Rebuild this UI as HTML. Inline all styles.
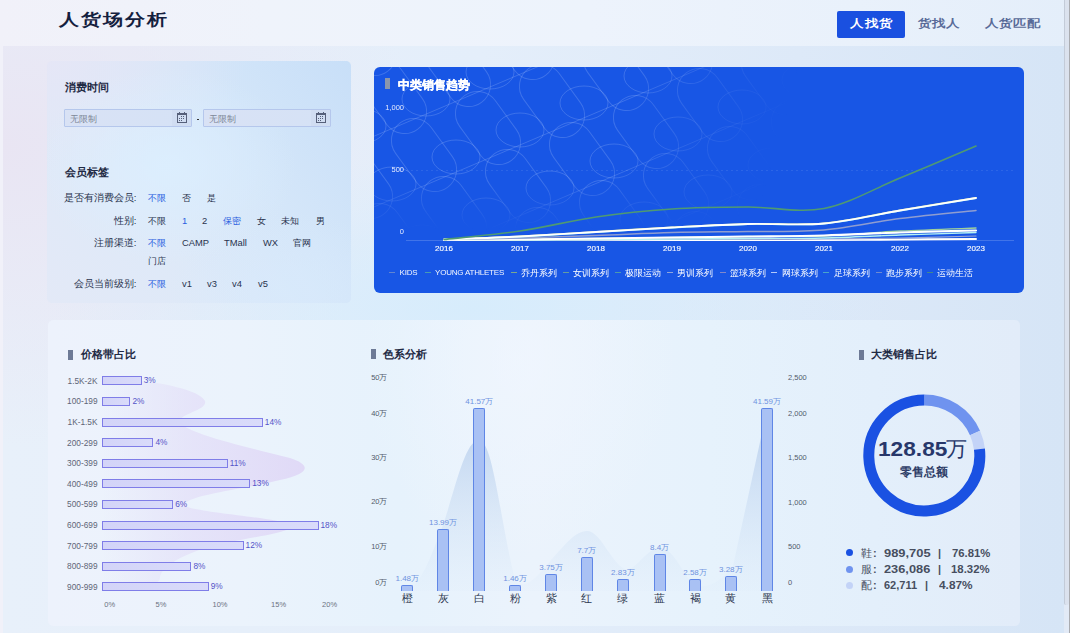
<!DOCTYPE html>
<html><head><meta charset="utf-8">
<style>
*{margin:0;padding:0;box-sizing:border-box}
html,body{width:1070px;height:633px;overflow:hidden}
body{position:relative;font-family:"Liberation Sans",sans-serif;background:linear-gradient(90deg,#f1f1f9 0%,#eff3fb 25%,#edf3fc 55%,#e9f1fb 80%,#e4eefa 100%);color:#1f2a44}
.abs{position:absolute}
#band{left:3px;top:46px;width:1061px;height:587px;background:radial-gradient(ellipse 420px 150px at 470px 262px,rgba(214,236,252,0.95),rgba(220,238,252,0)),radial-gradient(ellipse 420px 300px at 0px 100px,rgba(233,229,243,1),rgba(233,229,243,0)),linear-gradient(90deg,#e8f0fa 0%,#e4eefa 45%,#dde9f8 75%,#d6e5f6 100%)}
#sbt{left:1064px;top:0;width:5px;height:633px;background:#e2eaf6}
#sb{left:1064px;top:0;width:5px;height:605px;background:#dbe2ee;border-left:1px solid #c3cbd8;border-radius:0 0 2px 2px}
#sbline{left:1069px;top:0;width:1px;height:633px;background:#a9abb0}
#lp{left:47px;top:61px;width:304px;height:242px;border-radius:5px;background:radial-gradient(ellipse 130px 100px at 120px 105px,rgba(220,239,255,0.85),rgba(220,239,255,0)),radial-gradient(ellipse 120px 80px at 240px 230px,rgba(216,234,252,0.7),rgba(216,234,252,0)),radial-gradient(ellipse 200px 110px at 0px 0px,rgba(230,230,246,0.9),rgba(230,230,246,0)),linear-gradient(235deg,#c8dff8 0%,#d4e6f9 35%,#dee9f8 65%,#e3e9f7 100%)}
#bp{left:374px;top:67px;width:650px;height:225.5px;border-radius:6px;background:#1856e5;overflow:hidden}
#btm{left:48px;top:320px;width:971.5px;height:306px;border-radius:5px;background:radial-gradient(ellipse 160px 200px at 470px 40px,rgba(242,247,255,0.6),rgba(242,247,255,0)),linear-gradient(90deg,#edf2fc 0%,#ebf3fc 20%,#e6f2fc 36%,#ebf3fc 50%,#e6f2fc 68%,#e3effb 85%,#e2ecf9 100%)}
.title{font-size:20px;font-weight:900;color:#14203e;letter-spacing:2px;transform:scaleY(0.8);transform-origin:0 0}
.tab{font-size:13px;font-weight:bold;color:#586a98;top:16px;letter-spacing:1px;transform:scaleY(0.82);transform-origin:0 0}
.tabon{left:837px;top:11px;width:68px;height:27px;background:#1a50e0;border-radius:2px;color:#fff;font-size:13px;font-weight:bold;text-align:center;line-height:27px;letter-spacing:1px}
.h12{font-size:11px;font-weight:bold;color:#1f2a44;line-height:14px}
.inp{height:18px;border:1px solid #b5c7ec;border-radius:2px;background:linear-gradient(90deg,#d9e2f5,#d5e2f6);border-radius:1px}
.ph{font-size:9.3px;color:#7f8898}
.lbl{font-size:9.6px;color:#2a344e;line-height:12px}
.opt{font-size:9.4px;color:#2a344e;line-height:12px}
.blue{color:#2a5ee0}
.legk{font-size:11px;color:#4a5163;line-height:14px;white-space:pre}
.legk b{font-weight:bold;margin-left:1px}
.legn{font-size:10.8px;font-weight:bold;color:#474e5f;line-height:14px;white-space:nowrap}
.cyl{left:347px;width:40.5px;text-align:right;font-size:7.5px;color:#525a6b;line-height:10px}
.cyr{left:788px;font-size:7.5px;color:#525a6b;line-height:10px}
.cbar{width:12px;border:1px solid #5f86e6;border-bottom:none;border-radius:2px 2px 0 0;background:#a9c1f4}
.cval{width:50px;text-align:center;font-size:8px;color:#6f92e0;line-height:10px}
.cxl{top:592px;width:20px;text-align:center;font-size:10.5px;color:#2e3850;line-height:13px}
.h11{font-size:11px;font-weight:bold;color:#1f2a44;line-height:14px}
.plab{left:40px;width:57.5px;text-align:right;font-size:8.3px;color:#5e6576;line-height:11px}
.pbar{left:102px;height:9px;border:1.1px solid #7f7de8;background:linear-gradient(90deg,#d3d4f8,#d9dbfa);}
.pval{font-size:8.3px;color:#5453c8;line-height:11px}
.pax{top:600px;width:30px;text-align:center;font-size:7.5px;color:#6b7282;line-height:10px}
.ylab{left:370px;width:34px;text-align:right;font-size:7.5px;color:#e6ecff;line-height:10px}
.xlab{top:242.5px;width:40px;text-align:center;font-size:8px;color:#f4f7ff;line-height:11px;-webkit-text-stroke:0.15px #fff}
.lg{top:272px;width:6px;height:1.2px;opacity:0.75}
.lg i{display:block;width:6px;height:1.2px}
.lgt{top:268px;font-size:8px;letter-spacing:-0.2px;color:#f4f7ff;line-height:10px;white-space:nowrap}
.lgc{font-size:8.8px;letter-spacing:0;top:268px;color:#fff}
</style></head><body>
<div id="band" class="abs"></div>
<div id="sbt" class="abs"></div><div id="sb" class="abs"></div>
<div id="sbline" class="abs"></div>

<!-- header -->
<div class="abs title" style="left:59px;top:9px">人货场分析</div>
<div class="abs tabon"></div><div class="abs tab" style="left:850px;color:#fff;letter-spacing:1.5px">人找货</div>
<div class="abs tab" style="left:918px">货找人</div>
<div class="abs tab" style="left:985px">人货匹配</div>

<!-- left filter panel -->
<div id="lp" class="abs"></div>
<div class="abs h12" style="left:65px;top:80px">消费时间</div>
<div class="abs inp" style="left:64px;top:109px;width:128px"></div>
<div class="abs inp" style="left:203px;top:109px;width:128px"></div>
<div class="abs ph" style="left:70px;top:113px">无限制</div>
<div class="abs ph" style="left:209px;top:113px">无限制</div>
<div class="abs" style="left:172px;top:110px;width:19px;height:16px;background:rgba(200,212,236,0.35)"></div><svg class="abs" style="left:176px;top:111px" width="12" height="13" viewBox="0 0 12 13"><rect x="1.5" y="2.5" width="9" height="9" fill="none" stroke="#56607a" stroke-width="1"/><rect x="1" y="2" width="10" height="2" fill="#56607a"/><rect x="3" y="1" width="1" height="2" fill="#56607a"/><rect x="8" y="1" width="1" height="2" fill="#56607a"/><g fill="#56607a"><rect x="5" y="5" width="1" height="1"/><rect x="7" y="5" width="1" height="1"/><rect x="3" y="7" width="1" height="1"/><rect x="5" y="7" width="1" height="1"/><rect x="7" y="7" width="1" height="1"/><rect x="3" y="9" width="1" height="1"/><rect x="5" y="9" width="1" height="1"/></g></svg>
<div class="abs" style="left:311px;top:110px;width:19px;height:16px;background:rgba(200,212,236,0.35)"></div><svg class="abs" style="left:315px;top:111px" width="12" height="13" viewBox="0 0 12 13"><rect x="1.5" y="2.5" width="9" height="9" fill="none" stroke="#56607a" stroke-width="1"/><rect x="1" y="2" width="10" height="2" fill="#56607a"/><rect x="3" y="1" width="1" height="2" fill="#56607a"/><rect x="8" y="1" width="1" height="2" fill="#56607a"/><g fill="#56607a"><rect x="5" y="5" width="1" height="1"/><rect x="7" y="5" width="1" height="1"/><rect x="3" y="7" width="1" height="1"/><rect x="5" y="7" width="1" height="1"/><rect x="7" y="7" width="1" height="1"/><rect x="3" y="9" width="1" height="1"/><rect x="5" y="9" width="1" height="1"/></g></svg>
<div class="abs" style="left:196.5px;top:118.5px;width:2.5px;height:1.2px;background:#333"></div>
<div class="abs h12" style="left:65px;top:165px">会员标签</div>
<div class="abs lbl" style="left:42px;width:94.5px;text-align:right;top:192px">是否有消费会员:</div>
<div class="abs opt blue" style="left:148px;top:192px">不限</div>
<div class="abs opt" style="left:182px;top:192px">否</div>
<div class="abs opt" style="left:207px;top:192px">是</div>
<div class="abs lbl" style="left:42px;width:94.5px;text-align:right;top:215px">性别:</div>
<div class="abs opt" style="left:148px;top:215px">不限</div>
<div class="abs opt blue" style="left:182px;top:215px">1</div>
<div class="abs opt" style="left:202px;top:215px">2</div>
<div class="abs opt blue" style="left:223px;top:215px">保密</div>
<div class="abs opt" style="left:257px;top:215px">女</div>
<div class="abs opt" style="left:281px;top:215px">未知</div>
<div class="abs opt" style="left:316px;top:215px">男</div>
<div class="abs lbl" style="left:42px;width:94.5px;text-align:right;top:237px">注册渠道:</div>
<div class="abs opt blue" style="left:148px;top:237px">不限</div>
<div class="abs opt" style="left:182px;top:237px">CAMP</div>
<div class="abs opt" style="left:224px;top:237px">TMall</div>
<div class="abs opt" style="left:263px;top:237px">WX</div>
<div class="abs opt" style="left:293px;top:237px">官网</div>
<div class="abs opt" style="left:148px;top:255px">门店</div>
<div class="abs lbl" style="left:42px;width:94.5px;text-align:right;top:278px">会员当前级别:</div>
<div class="abs opt blue" style="left:148px;top:278px">不限</div>
<div class="abs opt" style="left:182px;top:278px">v1</div>
<div class="abs opt" style="left:207px;top:278px">v3</div>
<div class="abs opt" style="left:232px;top:278px">v4</div>
<div class="abs opt" style="left:258px;top:278px">v5</div>

<!-- blue panel -->
<div id="bp" class="abs">
<svg class="abs" style="left:0;top:0" width="650" height="226" viewBox="0 0 650 226">
<defs>
<linearGradient id="fadeg" x1="0" y1="0" x2="520" y2="150" gradientUnits="userSpaceOnUse"><stop offset="0" stop-color="#fff"/><stop offset="0.46" stop-color="#fff"/><stop offset="0.76" stop-color="#000"/></linearGradient>
<mask id="fm"><rect width="650" height="226" fill="url(#fadeg)"/></mask>
<linearGradient id="fadev" x1="0" y1="0" x2="0" y2="1"><stop offset="0" stop-color="#fff"/><stop offset="0.5" stop-color="#fff"/><stop offset="0.72" stop-color="#000"/></linearGradient>
<mask id="fm2"><rect width="650" height="226" fill="url(#fadev)"/></mask>
</defs>
<g mask="url(#fm2)"><g mask="url(#fm)" fill="none" stroke="rgba(190,212,255,0.22)" stroke-width="1">
<rect x="-100.0" y="102.0" width="44" height="80" rx="22" transform="rotate(-36 -78.0 142.0)"/>
<ellipse cx="-46.0" cy="144.0" rx="24" ry="17"/>
<rect x="-70.0" y="160.0" width="44" height="80" rx="22" transform="rotate(-36 -48.0 200.0)"/>
<ellipse cx="-16.0" cy="202.0" rx="24" ry="17"/>
<rect x="-40.0" y="218.0" width="44" height="80" rx="22" transform="rotate(-36 -18.0 258.0)"/>
<ellipse cx="14.0" cy="260.0" rx="24" ry="17"/>
<rect x="-96.0" y="-41.0" width="44" height="80" rx="22" transform="rotate(-36 -74.0 -1.0)"/>
<ellipse cx="-42.0" cy="1.0" rx="24" ry="17"/>
<rect x="-66.0" y="17.0" width="44" height="80" rx="22" transform="rotate(-36 -44.0 57.0)"/>
<ellipse cx="-12.0" cy="59.0" rx="24" ry="17"/>
<rect x="-36.0" y="75.0" width="44" height="80" rx="22" transform="rotate(-36 -14.0 115.0)"/>
<ellipse cx="18.0" cy="117.0" rx="24" ry="17"/>
<rect x="-6.0" y="133.0" width="44" height="80" rx="22" transform="rotate(-36 16.0 173.0)"/>
<ellipse cx="48.0" cy="175.0" rx="24" ry="17"/>
<rect x="24.0" y="191.0" width="44" height="80" rx="22" transform="rotate(-36 46.0 231.0)"/>
<ellipse cx="78.0" cy="233.0" rx="24" ry="17"/>
<rect x="54.0" y="249.0" width="44" height="80" rx="22" transform="rotate(-36 76.0 289.0)"/>
<ellipse cx="108.0" cy="291.0" rx="24" ry="17"/>
<rect x="-32.0" y="-68.0" width="44" height="80" rx="22" transform="rotate(-36 -10.0 -28.0)"/>
<ellipse cx="22.0" cy="-26.0" rx="24" ry="17"/>
<rect x="-2.0" y="-10.0" width="44" height="80" rx="22" transform="rotate(-36 20.0 30.0)"/>
<ellipse cx="52.0" cy="32.0" rx="24" ry="17"/>
<rect x="28.0" y="48.0" width="44" height="80" rx="22" transform="rotate(-36 50.0 88.0)"/>
<ellipse cx="82.0" cy="90.0" rx="24" ry="17"/>
<rect x="58.0" y="106.0" width="44" height="80" rx="22" transform="rotate(-36 80.0 146.0)"/>
<ellipse cx="112.0" cy="148.0" rx="24" ry="17"/>
<rect x="88.0" y="164.0" width="44" height="80" rx="22" transform="rotate(-36 110.0 204.0)"/>
<ellipse cx="142.0" cy="206.0" rx="24" ry="17"/>
<rect x="118.0" y="222.0" width="44" height="80" rx="22" transform="rotate(-36 140.0 262.0)"/>
<ellipse cx="172.0" cy="264.0" rx="24" ry="17"/>
<rect x="32.0" y="-95.0" width="44" height="80" rx="22" transform="rotate(-36 54.0 -55.0)"/>
<ellipse cx="86.0" cy="-53.0" rx="24" ry="17"/>
<rect x="62.0" y="-37.0" width="44" height="80" rx="22" transform="rotate(-36 84.0 3.0)"/>
<ellipse cx="116.0" cy="5.0" rx="24" ry="17"/>
<rect x="92.0" y="21.0" width="44" height="80" rx="22" transform="rotate(-36 114.0 61.0)"/>
<ellipse cx="146.0" cy="63.0" rx="24" ry="17"/>
<rect x="122.0" y="79.0" width="44" height="80" rx="22" transform="rotate(-36 144.0 119.0)"/>
<ellipse cx="176.0" cy="121.0" rx="24" ry="17"/>
<rect x="152.0" y="137.0" width="44" height="80" rx="22" transform="rotate(-36 174.0 177.0)"/>
<ellipse cx="206.0" cy="179.0" rx="24" ry="17"/>
<rect x="182.0" y="195.0" width="44" height="80" rx="22" transform="rotate(-36 204.0 235.0)"/>
<ellipse cx="236.0" cy="237.0" rx="24" ry="17"/>
<rect x="212.0" y="253.0" width="44" height="80" rx="22" transform="rotate(-36 234.0 293.0)"/>
<ellipse cx="266.0" cy="295.0" rx="24" ry="17"/>
<rect x="126.0" y="-64.0" width="44" height="80" rx="22" transform="rotate(-36 148.0 -24.0)"/>
<ellipse cx="180.0" cy="-22.0" rx="24" ry="17"/>
<rect x="156.0" y="-6.0" width="44" height="80" rx="22" transform="rotate(-36 178.0 34.0)"/>
<ellipse cx="210.0" cy="36.0" rx="24" ry="17"/>
<rect x="186.0" y="52.0" width="44" height="80" rx="22" transform="rotate(-36 208.0 92.0)"/>
<ellipse cx="240.0" cy="94.0" rx="24" ry="17"/>
<rect x="216.0" y="110.0" width="44" height="80" rx="22" transform="rotate(-36 238.0 150.0)"/>
<ellipse cx="270.0" cy="152.0" rx="24" ry="17"/>
<rect x="246.0" y="168.0" width="44" height="80" rx="22" transform="rotate(-36 268.0 208.0)"/>
<ellipse cx="300.0" cy="210.0" rx="24" ry="17"/>
<rect x="276.0" y="226.0" width="44" height="80" rx="22" transform="rotate(-36 298.0 266.0)"/>
<ellipse cx="330.0" cy="268.0" rx="24" ry="17"/>
<rect x="190.0" y="-91.0" width="44" height="80" rx="22" transform="rotate(-36 212.0 -51.0)"/>
<ellipse cx="244.0" cy="-49.0" rx="24" ry="17"/>
<rect x="220.0" y="-33.0" width="44" height="80" rx="22" transform="rotate(-36 242.0 7.0)"/>
<ellipse cx="274.0" cy="9.0" rx="24" ry="17"/>
<rect x="250.0" y="25.0" width="44" height="80" rx="22" transform="rotate(-36 272.0 65.0)"/>
<ellipse cx="304.0" cy="67.0" rx="24" ry="17"/>
<rect x="280.0" y="83.0" width="44" height="80" rx="22" transform="rotate(-36 302.0 123.0)"/>
<ellipse cx="334.0" cy="125.0" rx="24" ry="17"/>
<rect x="310.0" y="141.0" width="44" height="80" rx="22" transform="rotate(-36 332.0 181.0)"/>
<ellipse cx="364.0" cy="183.0" rx="24" ry="17"/>
<rect x="340.0" y="199.0" width="44" height="80" rx="22" transform="rotate(-36 362.0 239.0)"/>
<ellipse cx="394.0" cy="241.0" rx="24" ry="17"/>
<rect x="370.0" y="257.0" width="44" height="80" rx="22" transform="rotate(-36 392.0 297.0)"/>
<ellipse cx="424.0" cy="299.0" rx="24" ry="17"/>
<rect x="254.0" y="-118.0" width="44" height="80" rx="22" transform="rotate(-36 276.0 -78.0)"/>
<ellipse cx="308.0" cy="-76.0" rx="24" ry="17"/>
<rect x="284.0" y="-60.0" width="44" height="80" rx="22" transform="rotate(-36 306.0 -20.0)"/>
<ellipse cx="338.0" cy="-18.0" rx="24" ry="17"/>
<rect x="314.0" y="-2.0" width="44" height="80" rx="22" transform="rotate(-36 336.0 38.0)"/>
<ellipse cx="368.0" cy="40.0" rx="24" ry="17"/>
<rect x="344.0" y="56.0" width="44" height="80" rx="22" transform="rotate(-36 366.0 96.0)"/>
<ellipse cx="398.0" cy="98.0" rx="24" ry="17"/>
<rect x="374.0" y="114.0" width="44" height="80" rx="22" transform="rotate(-36 396.0 154.0)"/>
<ellipse cx="428.0" cy="156.0" rx="24" ry="17"/>
<rect x="404.0" y="172.0" width="44" height="80" rx="22" transform="rotate(-36 426.0 212.0)"/>
<ellipse cx="458.0" cy="214.0" rx="24" ry="17"/>
<rect x="434.0" y="230.0" width="44" height="80" rx="22" transform="rotate(-36 456.0 270.0)"/>
<ellipse cx="488.0" cy="272.0" rx="24" ry="17"/>
<rect x="348.0" y="-87.0" width="44" height="80" rx="22" transform="rotate(-36 370.0 -47.0)"/>
<ellipse cx="402.0" cy="-45.0" rx="24" ry="17"/>
<rect x="378.0" y="-29.0" width="44" height="80" rx="22" transform="rotate(-36 400.0 11.0)"/>
<ellipse cx="432.0" cy="13.0" rx="24" ry="17"/>
<rect x="408.0" y="29.0" width="44" height="80" rx="22" transform="rotate(-36 430.0 69.0)"/>
<ellipse cx="462.0" cy="71.0" rx="24" ry="17"/>
<rect x="438.0" y="87.0" width="44" height="80" rx="22" transform="rotate(-36 460.0 127.0)"/>
<ellipse cx="492.0" cy="129.0" rx="24" ry="17"/>
<rect x="468.0" y="145.0" width="44" height="80" rx="22" transform="rotate(-36 490.0 185.0)"/>
<ellipse cx="522.0" cy="187.0" rx="24" ry="17"/>
<rect x="412.0" y="-114.0" width="44" height="80" rx="22" transform="rotate(-36 434.0 -74.0)"/>
<ellipse cx="466.0" cy="-72.0" rx="24" ry="17"/>
<rect x="442.0" y="-56.0" width="44" height="80" rx="22" transform="rotate(-36 464.0 -16.0)"/>
<ellipse cx="496.0" cy="-14.0" rx="24" ry="17"/>
<rect x="472.0" y="2.0" width="44" height="80" rx="22" transform="rotate(-36 494.0 42.0)"/>
<ellipse cx="526.0" cy="44.0" rx="24" ry="17"/>
<line x1="-460.0" y1="-160.0" x2="240.0" y2="-457.0"/>
<line x1="-430.0" y1="-102.0" x2="270.0" y2="-399.0"/>
<line x1="-400.0" y1="-44.0" x2="300.0" y2="-341.0"/>
<line x1="-370.0" y1="14.0" x2="330.0" y2="-283.0"/>
<line x1="-340.0" y1="72.0" x2="360.0" y2="-225.0"/>
<line x1="-310.0" y1="130.0" x2="390.0" y2="-167.0"/>
<line x1="-280.0" y1="188.0" x2="420.0" y2="-109.0"/>
<line x1="-250.0" y1="246.0" x2="450.0" y2="-51.0"/>
<line x1="-220.0" y1="304.0" x2="480.0" y2="7.0"/>
<line x1="-190.0" y1="362.0" x2="510.0" y2="65.0"/>
<line x1="-160.0" y1="420.0" x2="540.0" y2="123.0"/>
<line x1="-130.0" y1="478.0" x2="570.0" y2="181.0"/>
<line x1="-100.0" y1="536.0" x2="600.0" y2="239.0"/>
<line x1="-70.0" y1="594.0" x2="630.0" y2="297.0"/>
<line x1="-40.0" y1="652.0" x2="660.0" y2="355.0"/>
<line x1="-10.0" y1="710.0" x2="690.0" y2="413.0"/>
</g></g>
</svg>
</div>
<div class="abs" style="left:385px;top:78px;width:5px;height:11px;background:#8a96ad"></div>
<div class="abs" style="left:398px;top:77px;font-size:12px;font-weight:bold;color:#fff;-webkit-text-stroke:0.3px #fff">中类销售趋势</div>
<div class="abs ylab" style="top:103px">1,000</div>
<div class="abs ylab" style="top:165px">500</div>
<div class="abs ylab" style="top:227px">0</div>
<svg class="abs" style="left:374px;top:67px" width="650" height="226" viewBox="374 67 650 226">
<line x1="406" y1="170.5" x2="1014" y2="170.5" stroke="rgba(255,255,255,0.09)" stroke-dasharray="2 3"/>
<line x1="406" y1="240.5" x2="1014" y2="240.5" stroke="rgba(255,255,255,0.18)"/>
<g fill="none" stroke-linecap="round">
<path d="M444,240 C456.7,240.0 494.7,240.0 520,240 C545.3,240.0 570.7,240.0 596,240 C621.3,240.0 646.7,240.0 672,240 C697.3,240.0 722.7,240.0 748,240 C773.3,240.0 798.7,240.1 824,240 C849.3,239.9 874.7,239.7 900,239.5 C925.3,239.3 963.3,239.1 976,239" stroke="#ffffff" stroke-width="2"/>
<path d="M444,240 C456.7,240.0 494.7,240.0 520,240 C545.3,240.0 570.7,240.1 596,240 C621.3,239.9 646.7,239.6 672,239.5 C697.3,239.4 722.7,239.6 748,239.5 C773.3,239.4 798.7,239.2 824,239 C849.3,238.8 874.7,238.5 900,238 C925.3,237.5 963.3,236.3 976,236" stroke="#9aa6d6" stroke-width="1.2"/>
<path d="M444,240 C456.7,240.0 494.7,240.1 520,240 C545.3,239.9 570.7,239.7 596,239.5 C621.3,239.3 646.7,239.2 672,239 C697.3,238.8 722.7,238.7 748,238.5 C773.3,238.3 798.7,238.6 824,238 C849.3,237.4 874.7,235.9 900,235 C925.3,234.1 963.3,232.9 976,232.5" stroke="#b6f2f2" stroke-width="1.3"/>
<path d="M444,240 C456.7,239.9 494.7,239.8 520,239.5 C545.3,239.2 570.7,238.8 596,238.5 C621.3,238.2 646.7,237.8 672,237.5 C697.3,237.2 722.7,236.8 748,236.5 C773.3,236.2 798.7,236.9 824,236 C849.3,235.1 874.7,232.3 900,231 C925.3,229.7 963.3,228.5 976,228" stroke="#9fcf9a" stroke-width="1.3"/>
<path d="M444,240 C456.7,239.9 494.7,239.8 520,239.5 C545.3,239.2 570.7,238.8 596,238.5 C621.3,238.2 646.7,237.8 672,237.5 C697.3,237.2 722.7,236.8 748,236.5 C773.3,236.2 798.7,236.2 824,235.5 C849.3,234.8 874.7,233.3 900,232.5 C925.3,231.7 963.3,230.8 976,230.5" stroke="#ffffff" stroke-width="2.2"/>
<path d="M444,239.5 C456.7,239.2 494.7,238.7 520,238 C545.3,237.3 570.7,236.4 596,235.5 C621.3,234.6 646.7,233.2 672,232.5 C697.3,231.8 722.7,231.9 748,231.5 C773.3,231.1 798.7,232.2 824,230 C849.3,227.8 874.7,221.8 900,218.5 C925.3,215.2 963.3,211.8 976,210.5" stroke="#8f9dd0" stroke-width="1.5"/>
<path d="M444,239.5 C456.7,239.1 494.7,238.0 520,236.8 C545.3,235.6 570.7,233.8 596,232.3 C621.3,230.8 646.7,229.1 672,227.8 C697.3,226.5 722.7,225.0 748,224.3 C773.3,223.6 798.7,226.1 824,223.8 C849.3,221.6 874.7,215.1 900,210.8 C925.3,206.6 963.3,200.4 976,198.3" stroke="#7fe3e0" stroke-width="1.3"/>
<path d="M444,239.5 C456.7,238.9 494.7,237.5 520,236.2 C545.3,234.9 570.7,233.2 596,231.7 C621.3,230.2 646.7,228.5 672,227.2 C697.3,225.9 722.7,224.4 748,223.7 C773.3,223.0 798.7,225.4 824,223.2 C849.3,220.9 874.7,214.4 900,210.2 C925.3,205.9 963.3,199.8 976,197.7" stroke="#d6e38a" stroke-width="1.3"/>
<path d="M444,239.5 C456.7,239.0 494.7,237.8 520,236.5 C545.3,235.2 570.7,233.5 596,232 C621.3,230.5 646.7,228.8 672,227.5 C697.3,226.2 722.7,224.7 748,224 C773.3,223.3 798.7,225.8 824,223.5 C849.3,221.2 874.7,214.8 900,210.5 C925.3,206.2 963.3,200.1 976,198" stroke="#ffffff" stroke-width="1.8"/>
<path d="M444,239.5 C456.7,238.1 494.7,234.8 520,231 C545.3,227.2 570.7,220.7 596,217 C621.3,213.3 646.7,210.7 672,209 C697.3,207.3 722.7,207.1 748,207 C773.3,206.9 798.7,213.3 824,208.5 C849.3,203.7 874.7,188.4 900,178 C925.3,167.6 963.3,151.3 976,146" stroke="#4f9a72" stroke-width="1.6"/>
</g>
</svg>
<div class="abs xlab" style="left:424px">2016</div>
<div class="abs xlab" style="left:500px">2017</div>
<div class="abs xlab" style="left:576px">2018</div>
<div class="abs xlab" style="left:652px">2019</div>
<div class="abs xlab" style="left:728px">2020</div>
<div class="abs xlab" style="left:804px">2021</div>
<div class="abs xlab" style="left:880px">2022</div>
<div class="abs xlab" style="left:956px">2023</div>
<div class="abs lg" style="left:389px"><i style="background:#7b95c8"></i></div><div class="abs lgt" style="left:399.5px">KIDS</div>
<div class="abs lg" style="left:425px"><i style="background:#58b3a3"></i></div><div class="abs lgt" style="left:435px">YOUNG ATHLETES</div>
<div class="abs lg" style="left:511px"><i style="background:#9cc46e"></i></div><div class="abs lgt lgc" style="left:521px">乔丹系列</div>
<div class="abs lg" style="left:563px"><i style="background:#7cb58a"></i></div><div class="abs lgt lgc" style="left:573px">女训系列</div>
<div class="abs lg" style="left:615px"><i style="background:#5fb29a"></i></div><div class="abs lgt lgc" style="left:625px">极限运动</div>
<div class="abs lg" style="left:667px"><i style="background:#b6c0d8"></i></div><div class="abs lgt lgc" style="left:677px">男训系列</div>
<div class="abs lg" style="left:720px"><i style="background:#a59ac0"></i></div><div class="abs lgt lgc" style="left:730px">篮球系列</div>
<div class="abs lg" style="left:771px"><i style="background:#e8f0ff"></i></div><div class="abs lgt lgc" style="left:781.5px">网球系列</div>
<div class="abs lg" style="left:823px"><i style="background:#5ac0c0"></i></div><div class="abs lgt lgc" style="left:833.5px">足球系列</div>
<div class="abs lg" style="left:876px"><i style="background:#8c9cc8"></i></div><div class="abs lgt lgc" style="left:886px">跑步系列</div>
<div class="abs lg" style="left:927px"><i style="background:#4f9a70"></i></div><div class="abs lgt lgc" style="left:937px">运动生活</div>

<!-- bottom panel -->
<div id="btm" class="abs"></div>
<div class="abs legk" style="left:861px;top:545.7px">鞋<b>:</b></div>
<div class="abs legn" style="left:884.1px;top:545.7px;;transform:scaleX(1.195);transform-origin:0 0">989,705</div>
<div class="abs legn" style="left:938px;top:545.7px">|</div>
<div class="abs legn" style="left:952.1px;top:545.7px;;transform:scaleX(1.049);transform-origin:0 0">76.81%</div>
<div class="abs legk" style="left:861px;top:562.0px">服<b>:</b></div>
<div class="abs legn" style="left:884.1px;top:562.0px;;transform:scaleX(1.185);transform-origin:0 0">236,086</div>
<div class="abs legn" style="left:938px;top:562.0px">|</div>
<div class="abs legn" style="left:951.4px;top:562.0px;;transform:scaleX(1.054);transform-origin:0 0">18.32%</div>
<div class="abs legk" style="left:861px;top:578.3px">配<b>:</b></div>
<div class="abs legn" style="left:884.1px;top:578.3px;;transform:scaleX(1.020);transform-origin:0 0">62,711</div>
<div class="abs legn" style="left:925px;top:578.3px">|</div>
<div class="abs legn" style="left:939px;top:578.3px;;transform:scaleX(1.098);transform-origin:0 0">4.87%</div>
<svg class="abs" style="left:850px;top:380px" width="150" height="150" viewBox="850 380 150 150">
<g fill="none" stroke-width="11">
<path d="M924.30,400.00 A55.5,55.5 0 0 1 975.00,432.93" stroke="#6f93ef"/>
<path d="M975.00,432.93 A55.5,55.5 0 0 1 979.44,449.22" stroke="#c3d3f7"/>
<path d="M979.44,449.22 A55.5,55.5 0 1 1 924.30,400.00" stroke="#1a51e2"/>
</g></svg>
<div class="abs" style="left:859px;top:350px;width:4.5px;height:10px;background:#6d7a96"></div>
<div class="abs h11" style="left:871px;top:347px">大类销售占比</div>
<div class="abs" style="left:878px;top:436px;font-size:21px;font-weight:bold;color:#27376a;line-height:26px;transform:scaleX(1.08);transform-origin:0 0">128.85</div><div class="abs" style="left:946px;top:436px;font-size:21px;color:#27376a;line-height:26px">万</div>
<div class="abs" style="left:864px;top:465px;width:120px;text-align:center;font-size:11.5px;font-weight:bold;color:#2d3c66;line-height:14px">零售总额</div>
<div class="abs" style="left:846.3px;top:549.2px;width:7px;height:7px;border-radius:50%;background:#1a51e2"></div>
<div class="abs" style="left:846.3px;top:565.5px;width:7px;height:7px;border-radius:50%;background:#6f93ef"></div>
<div class="abs" style="left:846.3px;top:581.8px;width:7px;height:7px;border-radius:50%;background:#c3d3f7"></div>
<svg class="abs" style="left:360px;top:330px" width="480" height="270" viewBox="360 330 480 270">
<defs><linearGradient id="ag" x1="0" y1="0" x2="0" y2="1"><stop offset="0" stop-color="#b6cdec" stop-opacity="0.95"/><stop offset="1" stop-color="#d6e6f7" stop-opacity="0.1"/></linearGradient></defs>
<path d="M407,591 C420,585 430,560 443,525 C455,490 465,440 479,440 C493,440 500,520 515,580 C525,590 535,580 551,560 C565,545 575,531 587,531 C600,531 610,560 623,568 C635,575 645,548 660,548 C675,548 685,580 695,585 C708,590 722,580 733,566 L767,410 L767,591 Z" fill="url(#ag)"/>
</svg>
<div class="abs" style="left:371px;top:349px;width:4.5px;height:10px;background:#6d7a96"></div>
<div class="abs h11" style="left:383px;top:347px">色系分析</div>
<div class="abs cyl" style="top:372.7px">50万</div>
<div class="abs cyl" style="top:409.0px">40万</div>
<div class="abs cyl" style="top:453.2px">30万</div>
<div class="abs cyl" style="top:497.4px">20万</div>
<div class="abs cyl" style="top:541.6px">10万</div>
<div class="abs cyl" style="top:577.8px">0万</div>
<div class="abs cyr" style="top:372.8px">2,500</div>
<div class="abs cyr" style="top:409.0px">2,000</div>
<div class="abs cyr" style="top:453.0px">1,500</div>
<div class="abs cyr" style="top:497.6px">1,000</div>
<div class="abs cyr" style="top:541.6px">500</div>
<div class="abs cyr" style="top:577.6px">0</div>
<div class="abs cbar" style="left:401.3px;top:585.0px;height:6.0px"></div>
<div class="abs cval" style="left:382.3px;top:574.0px">1.48万</div>
<div class="abs cxl" style="left:397.3px">橙</div>
<div class="abs cbar" style="left:437.0px;top:529.3px;height:61.7px"></div>
<div class="abs cval" style="left:418.0px;top:518.3px">13.99万</div>
<div class="abs cxl" style="left:433.0px">灰</div>
<div class="abs cbar" style="left:473.3px;top:407.8px;height:183.2px"></div>
<div class="abs cval" style="left:454.3px;top:396.8px">41.57万</div>
<div class="abs cxl" style="left:469.3px">白</div>
<div class="abs cbar" style="left:509.0px;top:585.0px;height:6.0px"></div>
<div class="abs cval" style="left:490.0px;top:574.0px">1.46万</div>
<div class="abs cxl" style="left:505.0px">粉</div>
<div class="abs cbar" style="left:545.0px;top:574.4px;height:16.6px"></div>
<div class="abs cval" style="left:526.0px;top:563.4px">3.75万</div>
<div class="abs cxl" style="left:541.0px">紫</div>
<div class="abs cbar" style="left:580.7px;top:556.7px;height:34.3px"></div>
<div class="abs cval" style="left:561.7px;top:545.7px">7.7万</div>
<div class="abs cxl" style="left:576.7px">红</div>
<div class="abs cbar" style="left:616.9px;top:578.5px;height:12.5px"></div>
<div class="abs cval" style="left:597.9px;top:567.5px">2.83万</div>
<div class="abs cxl" style="left:612.9px">绿</div>
<div class="abs cbar" style="left:653.6px;top:554.2px;height:36.8px"></div>
<div class="abs cval" style="left:634.6px;top:543.2px">8.4万</div>
<div class="abs cxl" style="left:649.6px">蓝</div>
<div class="abs cbar" style="left:689.0px;top:579.0px;height:12.0px"></div>
<div class="abs cval" style="left:670.0px;top:568.0px">2.58万</div>
<div class="abs cxl" style="left:685.0px">褐</div>
<div class="abs cbar" style="left:724.8px;top:575.9px;height:15.1px"></div>
<div class="abs cval" style="left:705.8px;top:564.9px">3.28万</div>
<div class="abs cxl" style="left:720.8px">黄</div>
<div class="abs cbar" style="left:761.0px;top:407.8px;height:183.2px"></div>
<div class="abs cval" style="left:742.0px;top:396.8px">41.59万</div>
<div class="abs cxl" style="left:757.0px">黑</div>
<svg class="abs" style="left:48px;top:320px" width="972" height="306" viewBox="48 320 972 306">
<defs><linearGradient id="pg" x1="0" y1="0" x2="1" y2="0"><stop offset="0" stop-color="#ddd3f5" stop-opacity="0.0"/><stop offset="0.45" stop-color="#dfd5f6" stop-opacity="0.5"/><stop offset="1" stop-color="#ddd1f5" stop-opacity="0.75"/></linearGradient></defs>
<path d="M102,380 L130,380 C160,382 200,390 205,401 C208,410 180,414 180,421 C180,432 250,448 290,458 C312,465 310,474 280,480 C240,490 190,495 185,504 C182,512 270,516 292,525 C300,532 230,540 205,548 C180,556 160,568 160,578 C160,583 150,586 140,586 L102,586 Z" fill="url(#pg)"/>
</svg>
<div class="abs" style="left:68px;top:350px;width:5px;height:10px;background:#6d7a96"></div>
<div class="abs h11" style="left:81px;top:347px">价格带占比</div>
<div class="abs plab" style="top:375.8px">1.5K-2K</div>
<div class="abs pbar" style="top:376.3px;width:39.7px"></div>
<div class="abs pval" style="top:375.3px;left:143.7px">3%</div>
<div class="abs plab" style="top:396.4px">100-199</div>
<div class="abs pbar" style="top:396.9px;width:28.4px"></div>
<div class="abs pval" style="top:395.9px;left:132.4px">2%</div>
<div class="abs plab" style="top:417.0px">1K-1.5K</div>
<div class="abs pbar" style="top:417.5px;width:160.8px"></div>
<div class="abs pval" style="top:416.5px;left:264.8px">14%</div>
<div class="abs plab" style="top:437.6px">200-299</div>
<div class="abs pbar" style="top:438.1px;width:51.4px"></div>
<div class="abs pval" style="top:437.1px;left:155.4px">4%</div>
<div class="abs plab" style="top:458.2px">300-399</div>
<div class="abs pbar" style="top:458.7px;width:125.7px"></div>
<div class="abs pval" style="top:457.7px;left:229.7px">11%</div>
<div class="abs plab" style="top:478.8px">400-499</div>
<div class="abs pbar" style="top:479.3px;width:148.2px"></div>
<div class="abs pval" style="top:478.3px;left:252.2px">13%</div>
<div class="abs plab" style="top:499.4px">500-599</div>
<div class="abs pbar" style="top:499.9px;width:71.2px"></div>
<div class="abs pval" style="top:498.9px;left:175.2px">6%</div>
<div class="abs plab" style="top:520.0px">600-699</div>
<div class="abs pbar" style="top:520.5px;width:216.5px"></div>
<div class="abs pval" style="top:519.5px;left:320.5px">18%</div>
<div class="abs plab" style="top:540.6px">700-799</div>
<div class="abs pbar" style="top:541.1px;width:141.6px"></div>
<div class="abs pval" style="top:540.1px;left:245.6px">12%</div>
<div class="abs plab" style="top:561.2px">800-899</div>
<div class="abs pbar" style="top:561.7px;width:89.4px"></div>
<div class="abs pval" style="top:560.7px;left:193.4px">8%</div>
<div class="abs plab" style="top:581.8px">900-999</div>
<div class="abs pbar" style="top:582.3px;width:106.7px"></div>
<div class="abs pval" style="top:581.3px;left:210.7px">9%</div>
<div class="abs pax" style="left:94.7px">0%</div>
<div class="abs pax" style="left:145.9px">5%</div>
<div class="abs pax" style="left:205.0px">10%</div>
<div class="abs pax" style="left:263.6px">15%</div>
<div class="abs pax" style="left:314.6px">20%</div>

</body></html>
